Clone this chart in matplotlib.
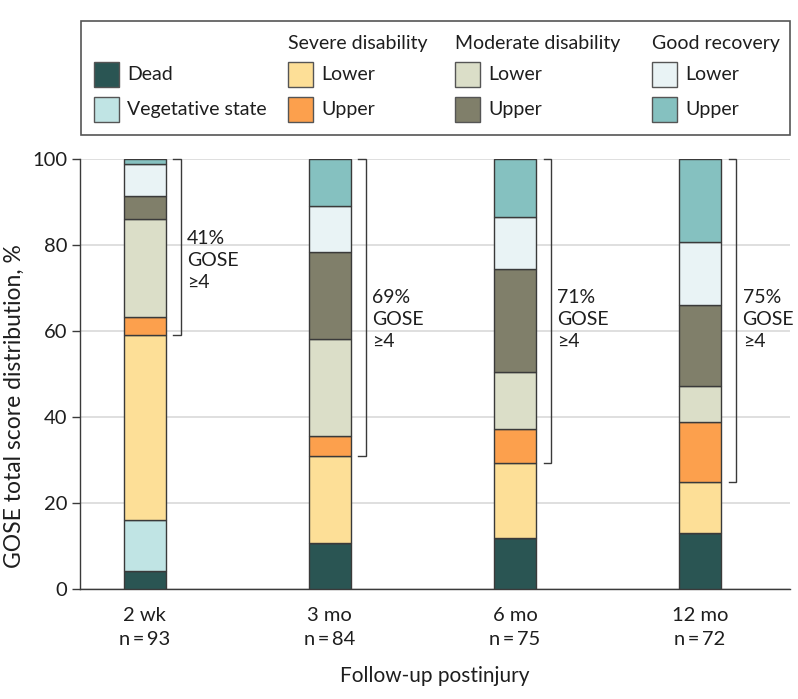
import matplotlib
matplotlib.use("Agg")
import matplotlib.pyplot as plt
from matplotlib.patches import Rectangle
import numpy as np

plt.rcParams['font.family'] = ['Lato', 'DejaVu Sans']
plt.rcParams['font.size'] = 14

# ---- data (percent of patients) ----
timepoints = ["2 wk", "3 mo", "6 mo", "12 mo"]
n_values = [93, 84, 75, 72]
dead = [4.3, 10.7, 12.0, 13.2]
vegetative = [11.8, 0.0, 0.0, 0.0]
severe_lower = [43.0, 20.2, 17.3, 11.8]
severe_upper = [4.3, 4.8, 8.0, 13.9]
moderate_lower = [22.6, 22.6, 13.3, 8.3]
moderate_upper = [5.4, 20.2, 24.0, 18.8]
good_lower = [7.5, 10.7, 12.0, 14.8]
good_upper = [1.1, 10.8, 13.4, 19.2]
gose4_pct = ["41%", "69%", "71%", "75%"]
text_y = [76.5, 62.8, 62.8, 62.8]

series = [dead, vegetative, severe_lower, severe_upper,
          moderate_lower, moderate_upper, good_lower, good_upper]
colors = ["#2a5553", "#c0e4e4", "#fddf97", "#fca04d",
          "#dbdec8", "#807f6a", "#e9f3f5", "#85c1c0"]
edge = "#3a3a3a"
txt = "#1e1e1e"
fs = 14.5

fig = plt.figure(figsize=(7.98, 6.99), dpi=100)
W, H = 798, 699
ax = fig.add_axes([80 / W, 1 - 589.3 / H, (790 - 80) / W, (589.3 - 159.3) / H])

x = np.arange(len(timepoints))
bw = 0.227
bottom = np.zeros(len(timepoints))
for vals, c in zip(series, colors):
    vals = np.array(vals)
    ax.bar(x, vals, bw, bottom=bottom, color=c, edgecolor=edge, linewidth=1.0, zorder=3)
    bottom += vals

# brackets for GOSE >= 4 (from top of severe lower to 100)
base = np.array(dead) + np.array(vegetative) + np.array(severe_lower)
for i in range(len(x)):
    xv = x[i] + 0.197
    xt = x[i] + 0.155
    ax.plot([xt, xv, xv, xt], [base[i], base[i], 100, 100], color=edge, lw=1.0,
            zorder=3, clip_on=False, solid_joinstyle='miter')
    ax.text(x[i] + 0.23, text_y[i], f"{gose4_pct[i]}\nGOSE\n≥4", ha='left', va='center',
            fontsize=14, linespacing=1.37, color=txt)

ax.set_xlim(-0.349, 3.486)
ax.set_ylim(0, 100)
ax.set_yticks(range(0, 101, 20))
ax.set_xticks(x)
ax.set_xticklabels([f"{t}\nn\u2009=\u2009{n}" for t, n in zip(timepoints, n_values)],
                   linespacing=1.45)
ax.tick_params(axis='x', length=0, pad=13, labelsize=fs, labelcolor=txt)
ax.tick_params(axis='y', length=6, width=1, color=edge, labelsize=fs, pad=3, labelcolor=txt)
ax.grid(axis='y', color="#d9d9d9", lw=1.2, zorder=0)
ax.set_axisbelow(True)
for s in ['top', 'right']:
    ax.spines[s].set_visible(False)
for s in ['left', 'bottom']:
    ax.spines[s].set_color(edge)
    ax.spines[s].set_linewidth(1.0)
ax.set_ylabel("GOSE total score distribution, %", fontsize=16.5, color=txt, va='center')
ax.yaxis.set_label_coords((14 - 80) / 710, (589.3 - 406) / 430)
ax.set_xlabel("Follow-up postinjury", fontsize=15, labelpad=13, color=txt)

# ---- legend drawn in pixel space ----
lg = fig.add_axes([0, 0, 1, 1], zorder=5)
lg.set_xlim(0, W)
lg.set_ylim(H, 0)
lg.axis('off')
lg.add_patch(Rectangle((80.5, 21), 709, 114, fill=False, edgecolor="#555555", lw=1.2))
headers = [(None, 94), ("Severe disability", 288), ("Moderate disability", 455), ("Good recovery", 652)]
labels = [["Dead", "Vegetative state"], ["Lower", "Upper"], ["Lower", "Upper"], ["Lower", "Upper"]]
lfs = 14
for ci, (hdr, cx) in enumerate(headers):
    if hdr:
        lg.text(cx, 43.5, hdr, ha='left', va='center', fontsize=lfs, color=txt)
    for ri, ry in enumerate([74.5, 109]):
        col = colors[ci * 2 + ri]
        lg.add_patch(Rectangle((cx, ry - 12.5), 25, 25, facecolor=col, edgecolor="#555555", lw=1.0))
        lg.text(cx + 33, ry, labels[ci][ri], ha='left', va='center', fontsize=lfs, color=txt)

fig.savefig("out.png", dpi=100)
